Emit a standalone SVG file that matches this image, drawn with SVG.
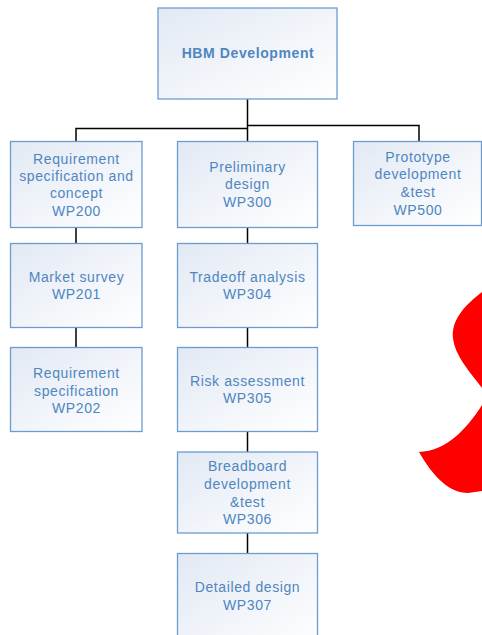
<svg xmlns="http://www.w3.org/2000/svg" width="482" height="635" viewBox="0 0 482 635">
<defs>
<linearGradient id="g" x1="0" y1="0" x2="1" y2="1">
<stop offset="0" stop-color="#e2e9f4"/>
<stop offset="1" stop-color="#ffffff"/>
</linearGradient>
<style>
.box{fill:url(#g);stroke:#6c9bd0;stroke-width:1.3}
.t{font-family:"Liberation Sans",Arial,sans-serif;font-size:14px;fill:#4f86c0;text-anchor:middle;letter-spacing:0.6px}
.b{font-weight:bold;font-size:14px;letter-spacing:0.6px}
.c{stroke:#000;stroke-width:1.5;fill:none}
</style>
</defs>
<rect width="482" height="635" fill="#fff"/>
<g id="connectors">
<path class="c" d="M247.5,99V141"/>
<path class="c" d="M247.5,128.5H76V141"/>
<path class="c" d="M247.5,125.5H419V141"/>
<path class="c" d="M76,227V243M76,327V347"/>
<path class="c" d="M247.5,227V243M247.5,327V347M247.5,431V452M247.5,533V553"/>
</g>
<g id="hbm"><rect class="box" x="158" y="8" width="179" height="91"/><text class="t b" x="248" y="58">HBM Development</text></g>
<g id="wp200"><rect class="box" x="10.5" y="141.5" width="131.5" height="86"/>
<text class="t" x="76.5" y="163.5">Requirement</text><text class="t" x="76.5" y="180.5">specification and</text><text class="t" x="76.5" y="198">concept</text><text class="t" x="76.5" y="215.5">WP200</text></g>
<g id="wp300"><rect class="box" x="177.5" y="141.5" width="140" height="86"/>
<text class="t" x="247.5" y="171.5">Preliminary</text><text class="t" x="247.5" y="189">design</text><text class="t" x="247.5" y="206.5">WP300</text></g>
<g id="wp500"><rect class="box" x="353.5" y="141.5" width="128" height="84"/>
<text class="t" x="418" y="162">Prototype</text><text class="t" x="418" y="179">development</text><text class="t" x="418" y="197">&amp;test</text><text class="t" x="418" y="215">WP500</text></g>
<g id="wp201"><rect class="box" x="10.5" y="243.5" width="131.5" height="84"/>
<text class="t" x="76.5" y="281.5">Market survey</text><text class="t" x="76.5" y="299">WP201</text></g>
<g id="wp202"><rect class="box" x="10.5" y="347.5" width="131.5" height="84"/>
<text class="t" x="76.5" y="377.5">Requirement</text><text class="t" x="76.5" y="395.5">specification</text><text class="t" x="76.5" y="413">WP202</text></g>
<g id="wp304"><rect class="box" x="177.5" y="243.5" width="140" height="84"/>
<text class="t" x="247.5" y="281.5">Tradeoff analysis</text><text class="t" x="247.5" y="299">WP304</text></g>
<g id="wp305"><rect class="box" x="177.5" y="347.5" width="140" height="84"/>
<text class="t" x="247.5" y="385.5">Risk assessment</text><text class="t" x="247.5" y="403">WP305</text></g>
<g id="wp306"><rect class="box" x="177.5" y="452" width="140" height="81"/>
<text class="t" x="247.5" y="471">Breadboard</text><text class="t" x="247.5" y="489">development</text><text class="t" x="247.5" y="507">&amp;test</text><text class="t" x="247.5" y="524">WP306</text></g>
<g id="wp307"><rect class="box" x="177.5" y="553.5" width="140" height="100"/>
<text class="t" x="247.5" y="592">Detailed design</text><text class="t" x="247.5" y="610">WP307</text></g>
<g id="red" fill="#ff0000">
<path d="M482,292 C465,305 451,320 453,338 C455,356 470,372 482,388 Z"/>
<path d="M482,405 C466,430 446,451 419,452 C434,478 450,493 468,493 L482,491 Z"/>
</g>
</svg>
